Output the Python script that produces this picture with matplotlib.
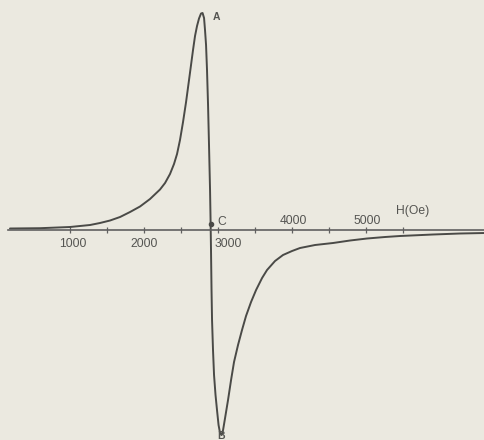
import matplotlib
matplotlib.use("Agg")
import matplotlib.pyplot as plt

# Resonance derivative signal: field H (Oe) vs. signal (arb. units)
field_oe = [189, 595, 1000, 1270, 1405, 1541, 1676, 1811, 1946, 2081,
            2216, 2284, 2351, 2405, 2446, 2486, 2527, 2568, 2608, 2635,
            2662, 2689, 2716, 2743, 2770, 2791, 2811, 2824, 2838, 2851,
            2865, 2878, 2892, 2899, 2905, 2912, 2919, 2932, 2946, 2966,
            2986, 3007, 3027, 3047, 3068, 3095, 3135, 3176, 3216, 3270,
            3324, 3378, 3446, 3514, 3595, 3662, 3770, 3878, 4000, 4108,
            4311, 4554, 4784, 5014, 5257, 5459, 5905, 6270, 6608]
signal = [1.5, 1.8, 3, 5, 7, 9.5, 13, 18, 23.5, 31,
          40.5, 47, 56, 66, 76, 90, 108, 128, 150, 165,
          180, 194, 204, 211.5, 216.5, 217, 212, 200, 185, 160,
          125, 85, 40, 10, -20, -60, -90, -120, -145, -165,
          -180, -195, -203, -205, -200, -188, -170, -150, -132, -115,
          -100, -86, -72, -60, -48, -40, -31, -25, -21, -18,
          -15, -13, -10.5, -8.5, -7, -6, -4.5, -3.5, -3]

tick_fields = [1000, 1500, 2000, 2500, 3000, 3500, 4000, 4500, 5000, 5500]
below_labels = ["1000", "2000", "3000"]
below_label_pos = [(1040, -14), (2000, -14), (3140, -14)]
above_labels = ["4000", "5000"]
above_label_pos = [(4013, 9), (5013, 9)]

point_names = ["A", "B", "C"]
point_label_pos = [(2935, 213), (2990, -206), (2990, 8)]
c_point = (2900, 6)

bg = "#ebe9e0"
ink = "#4a4a47"

fig = plt.figure(figsize=(4.85, 4.40), dpi=100, facecolor=bg)
ax = fig.add_axes([0, 0, 1, 1], facecolor=bg)
ax.set_xlim(54, 6607)
ax.set_ylim(-210, 230)

ax.plot(field_oe, signal, color=ink, lw=1.4, solid_joinstyle="round",
        solid_capstyle="round")
ax.plot([c_point[0]], [c_point[1]], marker="o", ms=3, color=ink)

for side in ("left", "right", "top"):
    ax.spines[side].set_visible(False)
ax.spines["bottom"].set_position(("data", 0))
ax.spines["bottom"].set_bounds(160, 6607)
ax.spines["bottom"].set_color("#606060")
ax.spines["bottom"].set_linewidth(1.2)
ax.set_yticks([])
ax.set_xticks(tick_fields)
ax.tick_params(axis="x", direction="inout", length=5, width=0.9,
               color="#606060", labelbottom=False)

font = dict(family="Liberation Sans", size=8.7, color="#555552")
for txt, (x, y) in zip(below_labels, below_label_pos):
    ax.text(x, y, txt, ha="center", va="center", **font)
for txt, (x, y) in zip(above_labels, above_label_pos):
    ax.text(x, y, txt, ha="center", va="center", **font)
ax.text(5634, 19, "H(Oe)", ha="center", va="center", **font)

for txt, (x, y) in zip(point_names, point_label_pos):
    ax.text(x, y, txt, ha="left", va="center", family="Liberation Sans",
            size=7.5 if txt != "C" else 8.7, color="#555552",
            fontweight="bold" if txt != "C" else "normal")

fig.savefig("out.png", dpi=100, facecolor=bg)
